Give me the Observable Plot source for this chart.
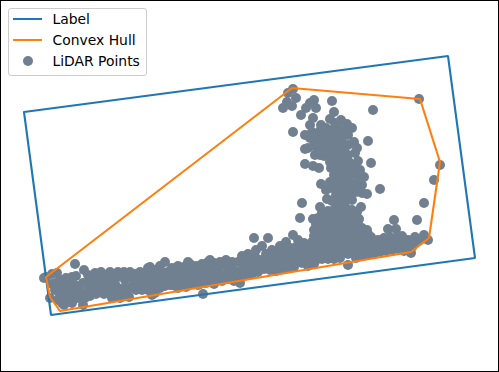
<!DOCTYPE html>
<html>
<head>
<meta charset="utf-8">
<script src="https://cdn.jsdelivr.net/npm/d3@7"></script>
<script src="https://cdn.jsdelivr.net/npm/@observablehq/plot@0.6"></script>
<style>
html,body{margin:0;padding:0;background:#fff}
#chart{position:relative;width:499px;height:372px;font-family:"DejaVu Sans",sans-serif;overflow:hidden}
#chart svg.plot, #chart svg{display:block}
#border{position:absolute;left:0;top:0;width:499px;height:372px;border:1px solid #000;box-sizing:border-box}
#legend{position:absolute;left:8px;top:8px;width:137px;height:66px;border:1px solid #ccc;border-radius:3px;background:rgba(255,255,255,.8);font-size:13.9px;color:#000;box-sizing:content-box}
#legend .row{position:absolute;left:0;height:20px;line-height:20px;white-space:nowrap}
#legend .swatch{position:absolute;left:4px;top:9px;width:29px;height:2px}
#legend .dot{position:absolute;left:13.5px;top:5px;width:10px;height:10px;border-radius:50%;background:#708090}
#legend .txt{position:absolute;left:43.5px;top:0}
</style>
</head>
<body>
<div id="chart"></div>
<script>
const labelBox = [[24,112],[448,56],[475,258],[51,315],[24,112]];
const convexHull = [[46,277],[292,88],[420,99],[440,162],[429,238],[411,252],[60,311],[50,297],[46,277]];
const legendItems = ["Label", "Convex Hull", "LiDAR Points"];

const stemOutliers = [[293,89],[288,93],[296,98],[287,102],[292,106],[283,108],[314,100],[310,103],[316,108],[306,108],[301,115],[332,101],[334,112],[373,110],[419,99],[293,132],[313,118],[310,125],[330,119],[341,120],[347,124],[321,125],[335,123],[305,135],[310,138],[348,135],[354,142],[348,145],[368,141],[305,149],[308,148],[315,155],[355,153],[358,161],[371,163],[305,164],[313,166],[319,168],[364,177],[321,184],[380,189],[367,194],[362,193],[327,199],[302,203],[320,207],[361,207],[352,200],[424,203],[434,180],[440,165],[312,132],[316,137],[314,146],[320,155],[352,128],[357,148],[360,170],[362,185],[326,190]];

const stemCore = [[320,131],[326,128],[332,130],[338,127],[344,131],[318,138],[324,136],[330,135],[336,134],[342,138],[315,142],[322,143],[328,141],[334,142],[340,144],[320,150],[326,148],[332,149],[338,150],[344,149],[324,156],[330,155],[336,156],[342,157],[348,155],[330,162],[337,162],[343,163],[349,162],[353,165],[331,168],[337,170],[344,168],[352,169],[334,175],[341,175],[348,175],[355,174],[359,176],[330,182],[336,181],[343,183],[350,182],[356,183],[331,188],[338,188],[346,187],[353,189],[336,195],[343,194],[349,194],[356,192],[332,201],[340,201],[346,200],[342,206],[336,207]];

const lowerCore = [[322,212],[328,211],[334,210],[340,209],[346,208],[352,210],[357,212],[318,218],[324,218],[330,217],[336,216],[342,215],[348,216],[354,217],[359,219],[316,224],[322,224],[328,223],[334,223],[340,222],[346,222],[352,223],[358,224],[314,230],[320,230],[326,229],[332,229],[338,228],[344,228],[350,229],[356,230],[362,228],[367,230],[314,236],[320,236],[326,235],[332,235],[338,234],[344,235],[350,235],[356,236],[362,235],[368,234],[371,237],[312,242],[318,242],[324,241],[330,241],[336,241],[342,240],[348,241],[354,241],[360,241],[366,243],[310,248],[316,248],[322,247],[328,247],[334,247],[340,247],[346,247],[352,248],[358,248],[364,249],[312,254],[318,254],[324,253],[330,253],[336,253],[342,253],[348,254],[354,254],[360,253],[316,260],[322,259],[328,259],[334,259],[340,258],[348,265]];

const footRight = [[313,219],[300,218],[417,220],[394,220],[388,229],[396,229],[424,235],[415,237],[428,240],[411,253],[372,242],[378,240],[384,238],[390,237],[396,238],[402,236],[408,240],[414,243],[420,240],[370,250],[376,247],[382,245],[388,244],[394,245],[400,243],[406,246],[412,247],[368,255],[374,254],[380,252],[386,251],[392,250],[398,249],[404,251],[362,256],[356,258]];

const footMiddle = [[254,238],[268,238],[293,235],[286,242],[280,246],[298,240],[304,243],[272,250],[278,252],[284,250],[290,248],[296,247],[302,249],[308,252],[262,246],[256,250],[248,254],[242,256],[266,254],[272,258],[278,260],[284,257],[290,255],[296,254],[302,256],[308,260],[250,261],[256,258],[262,260],[244,263],[238,262],[266,263],[272,265],[278,266],[284,263],[290,262],[296,261],[302,263],[308,266],[314,264],[252,268],[258,266],[264,269],[246,270],[240,271],[270,270],[276,271],[282,269],[288,268],[294,267],[226,260],[232,262],[220,262],[214,263],[208,262],[202,264],[196,266],[190,264],[184,267],[178,266],[172,268],[228,271],[234,274],[222,275],[216,274],[210,272],[204,270],[198,273],[192,271],[186,273],[180,272],[174,274],[168,272],[240,278],[234,281],[228,279],[246,275],[252,274],[258,272],[240,283],[222,281],[216,280],[210,279],[204,277],[198,279],[192,278],[186,280],[180,279],[174,280],[168,279],[162,272],[156,270],[226,266],[218,268],[212,268],[232,268],[198,285],[206,283],[214,284],[172,285],[178,288],[186,287]];

const footLeft = [[46,277],[44,278],[52,274],[57,273],[56,283],[50,298],[62,288],[60,295],[58,300],[66,284],[64,305],[68,292],[72,300],[72,283],[75,264],[84,270],[83,283],[80,292],[85,298],[70,290],[88,275],[92,288],[95,280],[96,294],[101,272],[106,278],[102,287],[108,293],[112,298],[110,272],[115,284],[120,275],[122,290],[125,280],[128,296],[130,272],[134,285],[136,274],[140,280],[142,290],[148,268],[150,276],[152,285],[155,293],[158,272],[162,280],[165,286],[165,262],[83,305],[72,303],[62,303],[120,298],[129,297],[152,295],[203,294],[150,267],[188,262],[210,260],[95,273],[107,275],[76,276],[78,286],[90,282],[98,286],[104,282],[112,280],[118,288],[126,286],[132,278],[138,284],[146,282],[156,282],[160,288],[170,285],[176,286],[184,285],[192,284],[200,284],[55,290],[60,280],[66,278],[52,284],[64,296],[74,292],[88,290],[94,287],[100,280],[108,285],[116,278],[124,272],[128,289],[136,290],[144,276],[148,290],[114,292],[104,294],[90,296],[78,298],[68,298],[60,290],[72,277],[118,272],[140,272],[154,276],[160,266]];

const allPoints = [...stemOutliers, ...stemCore, ...lowerCore, ...footRight, ...footMiddle, ...footLeft];

const plot = Plot.plot({
  width: 499,
  height: 372,
  margin: 0,
  x: {domain: [0, 499], range: [-0.5, 498.5], axis: null},
  y: {domain: [0, 372], range: [-0.5, 371.5], axis: null},
  marks: [
    Plot.dot(allPoints, {x: d => d[0], y: d => d[1], r: 5, fill: "#708090", stroke: "none"}),
    Plot.line(labelBox, {x: d => d[0], y: d => d[1], stroke: "#1f77b4", strokeWidth: 2.1, strokeLinejoin: "miter", curve: "linear"}),
    Plot.line(convexHull, {x: d => d[0], y: d => d[1], stroke: "#ff7f0e", strokeWidth: 2.1, strokeLinejoin: "miter", curve: "linear"})
  ]
});
const chart = document.getElementById("chart");
chart.appendChild(plot);

const border = document.createElement("div");
border.id = "border";
chart.appendChild(border);

const legend = document.createElement("div");
legend.id = "legend";
const swatches = ["#1f77b4", "#ff7f0e", null];
legendItems.forEach((name, i) => {
  const row = document.createElement("div");
  row.className = "row";
  row.style.top = (i * 21.2) + "px";
  const sw = document.createElement("div");
  if (swatches[i]) { sw.className = "swatch"; sw.style.background = swatches[i]; }
  else { sw.className = "dot"; }
  const t = document.createElement("div");
  t.className = "txt";
  t.textContent = name;
  row.appendChild(sw);
  row.appendChild(t);
  legend.appendChild(row);
});
chart.appendChild(legend);
</script>
</body>
</html>
